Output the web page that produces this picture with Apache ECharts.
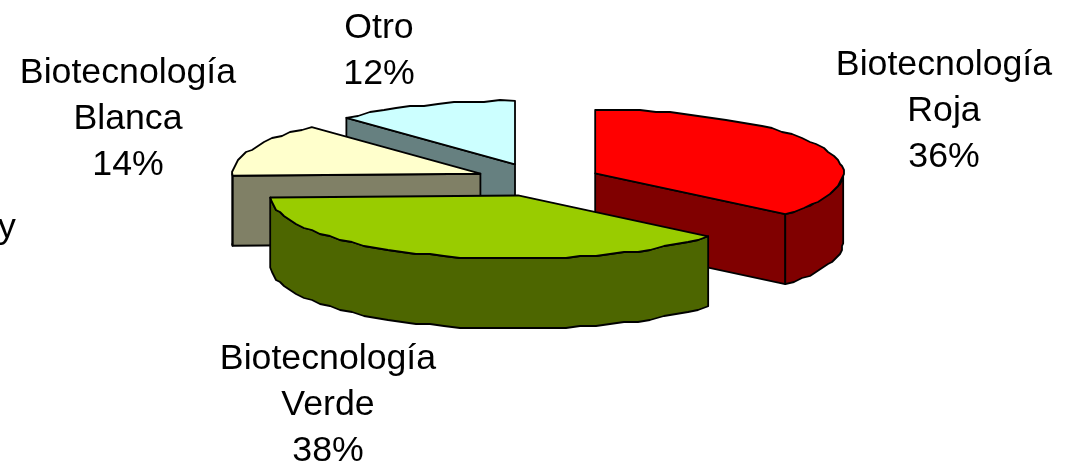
<!DOCTYPE html>
<html><head><meta charset="utf-8">
<style>html,body{margin:0;padding:0;background:#fff}#c{width:1072px;height:464px}</style>
<script src="https://cdn.jsdelivr.net/npm/echarts@6/dist/echarts.min.js"></script>
</head><body><div id="c"></div>
<script>
const categories = ['Biotecnología\nRoja', 'Biotecnología\nVerde', 'Biotecnología\nBlanca', 'Otro'];
const values = [36.1, 38.4, 13.6, 11.9];
const topColors = ['#ff0000', '#99cc00', '#ffffcc', '#ccffff'];
const sideColors = ['#800000', '#4d6600', '#808066', '#668080'];
const drawOrder = [3, 2, 0, 1];
const strayText = 'y';

const PIE = {cx: 539, cy: 180, rx: 248, ry: 63.5, depth: 70, grid: 2, stepDeg: 3.6};
const explode = [62, 64, 63.5, 65.7];
const labelPos = [[944, 111], [328, 405.5], [128, 119], [379, 51]];
const FONT = '35.7px "Liberation Sans", Arial, sans-serif';

const total = values.reduce((a, b) => a + b, 0);
const starts = [];
values.reduce((acc, v, i) => { starts[i] = acc; return acc + v; }, 0);
const toAngle = v => v / total * 2 * Math.PI;

function pieItem(params, api) {
  const i = api.value(0), v = api.value(1);
  const a0 = toAngle(starts[i]), a1 = a0 + toAngle(v), mid = (a0 + a1) / 2;
  const k = PIE.ry / PIE.rx;
  const cx = PIE.cx + explode[i] * Math.sin(mid);
  const cy = PIE.cy - explode[i] * Math.cos(mid) * k;
  const d = PIE.depth;
  const rim = a => [cx + PIE.rx * Math.sin(a), cy - PIE.ry * Math.cos(a)];
  const snap = p => [Math.round(p[0] / PIE.grid) * PIE.grid, Math.round(p[1] / PIE.grid) * PIE.grid];
  const arc = (from, to) => {
    const n = Math.max(2, Math.ceil((to - from) / (PIE.stepDeg * Math.PI / 180)));
    const pts = [];
    for (let j = 0; j <= n; j++) {
      const p = rim(from + (to - from) * j / n);
      pts.push(j === 0 || j === n ? p : snap(p));
    }
    return pts;
  };
  const down = p => [p[0], p[1] + d];
  const line = {stroke: '#000', lineWidth: 1.8, lineJoin: 'round'};
  const poly = (pts, fill) => ({type: 'polygon', shape: {points: pts}, style: Object.assign({fill}, line)});
  const children = [];
  const apex = [cx, cy];
  const side = sideColors[i];
  if (Math.sin(a0) < -1e-6) children.push(poly([apex, rim(a0), down(rim(a0)), down(apex)], side));
  if (Math.sin(a1) > 1e-6) children.push(poly([apex, rim(a1), down(rim(a1)), down(apex)], side));
  const f0 = Math.max(a0, Math.PI / 2), f1 = Math.min(a1, 3 * Math.PI / 2);
  if (f1 > f0) {
    const top = arc(f0, f1);
    children.push(poly(top.concat(top.slice().reverse().map(down)), side));
  }
  children.push(poly([apex].concat(arc(a0, a1)), topColors[i]));
  const lp = labelPos[i];
  children.push({
    type: 'text', z2: 50, x: lp[0], y: lp[1],
    style: {
      text: categories[i] + '\n' + Math.round(values[i]) + '%',
      fill: '#000', font: FONT,
      lineHeight: 46, align: 'center', verticalAlign: 'middle'
    }
  });
  return {type: 'group', children};
}

const chart = echarts.init(document.getElementById('c'), null, {renderer: 'canvas'});
chart.setOption({
  animation: false,
  backgroundColor: '#fff',
  graphic: [{
    type: 'text', x: -2, y: 228,
    style: {text: strayText, fill: '#000', font: FONT, verticalAlign: 'middle'}
  }],
  series: [{
    type: 'custom',
    coordinateSystem: 'none',
    renderItem: pieItem,
    data: drawOrder.map(i => [i, values[i]]),
    silent: true
  }]
});
</script></body></html>
